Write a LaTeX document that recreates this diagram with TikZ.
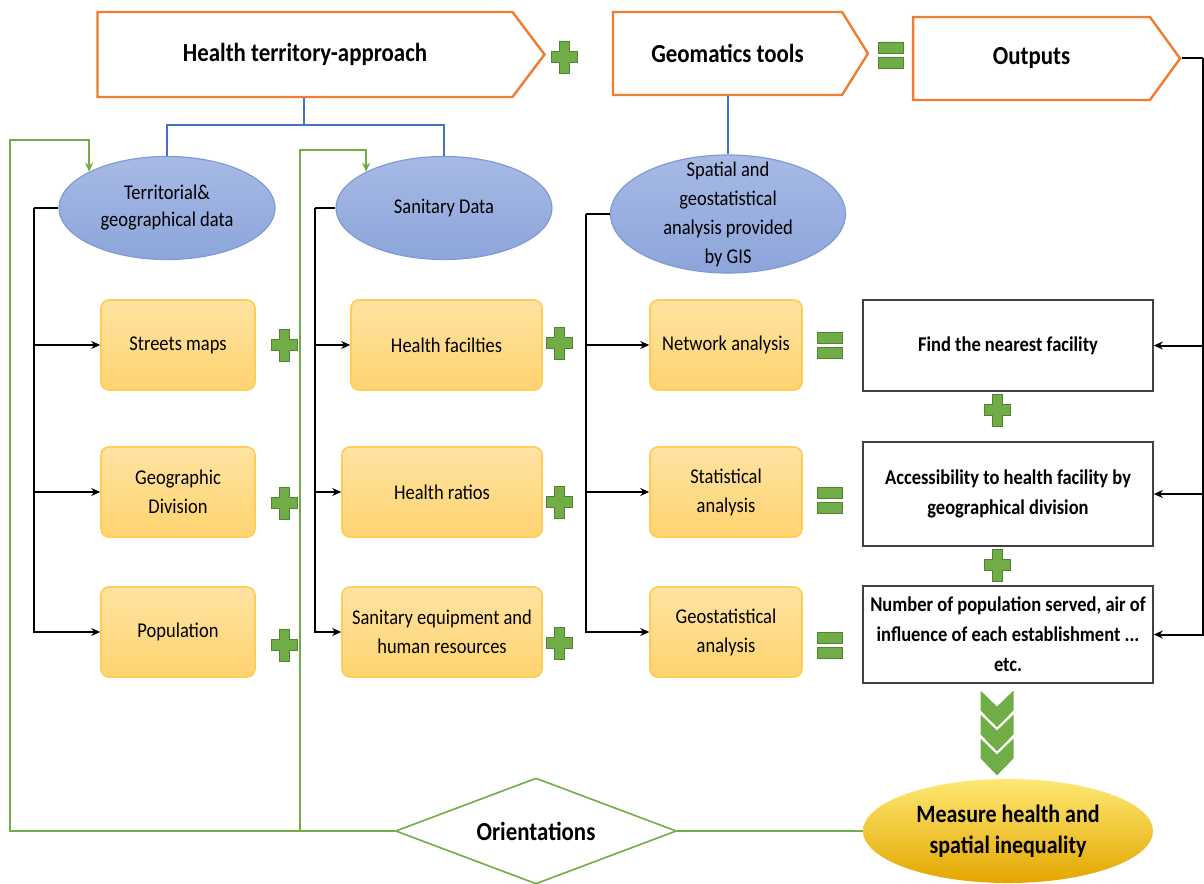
\documentclass[tikz,border=0pt]{standalone}
\usepackage{fontspec}
\setmainfont{Carlito}[FakeStretch=0.88]
\usetikzlibrary{shapes.geometric,shapes.symbols,arrows.meta}

\definecolor{hdorange}{HTML}{ED7D31}
\definecolor{elledge}{HTML}{7F9BD6}
\definecolor{elltop}{HTML}{A7BAE5}
\definecolor{ellbot}{HTML}{8DA5DA}
\definecolor{boxedge}{HTML}{FFCC55}
\definecolor{boxtop}{HTML}{FFE3A2}
\definecolor{boxbot}{HTML}{FFD470}
\definecolor{linkblue}{HTML}{4472C4}
\definecolor{fbgreen}{HTML}{70AD47}
\definecolor{darkgreen}{HTML}{548235}
\definecolor{meastop}{HTML}{FFE873}
\definecolor{measmid}{HTML}{FFC20E}
\definecolor{measbot}{HTML}{E3A600}

\begin{document}
\begin{tikzpicture}[x=0.5pt,y=-0.5pt,
  headshape/.style={signal, signal to=east, draw=hdorange, line width=1.2pt, fill=white,
    inner sep=0pt, font=\fontsize{13}{15}\selectfont\bfseries},
  dataell/.style={ellipse, draw=elledge, line width=0.6pt, top color=elltop, bottom color=ellbot,
    inner sep=0pt, align=center, font=\fontsize{10.5}{13.5}\selectfont},
  itembox/.style={rounded corners=4pt, draw=boxedge, line width=0.8pt, top color=boxtop,
    bottom color=boxbot, minimum width=77pt, minimum height=45pt, align=center,
    font=\fontsize{10.5}{14.5}\selectfont},
  resbox/.style={draw=black!75, line width=0.8pt, fill=white, minimum width=145pt,
    align=center, font=\fontsize{10.5}{15}\selectfont\bfseries},
  tree/.style={line width=1pt},
  blueln/.style={draw=linkblue, line width=0.8pt},
  feed/.style={draw=fbgreen, line width=0.9pt},
  >={Stealth[length=4.5pt,width=4pt]},
  greenplus/.pic={\path[fill=fbgreen, draw=darkgreen, line width=0.3pt]
    (-5,-16) -- (5,-16) -- (5,-5.5) -- (13,-5.5) -- (13,5.5) -- (5,5.5) -- (5,16)
    -- (-5,16) -- (-5,5.5) -- (-13,5.5) -- (-13,-5.5) -- (-5,-5.5) -- cycle;},
  greeneq/.pic={\path[fill=fbgreen, draw=darkgreen, line width=0.3pt]
    (-12.5,-13) rectangle (12.5,-2) (-12.5,2) rectangle (12.5,13);},
  chevron/.pic={\path[fill=fbgreen, draw=white, line width=1pt]
    (-17.5,0) -- (0,17) -- (17.5,0) -- (17.5,23) -- (0,41) -- (-17.5,23) -- cycle;}
]
\useasboundingbox (0,0) rectangle (1204,883);

% Header arrows
\node[headshape, minimum width=223.5pt, minimum height=42.5pt, signal pointer angle=106]
  (hta) at (305,54.5) {Health territory-approach};
\node[headshape, minimum width=127.5pt, minimum height=41.5pt, signal pointer angle=116]
  (geo) at (727.5,53.5) {Geomatics tools};
\node[headshape, minimum width=133.5pt, minimum height=41.5pt, signal pointer angle=108]
  (outs) at (1031.5,58.5) {Outputs};

% Data sources
\node[dataell, minimum width=108pt, minimum height=51.5pt] (terr) at (167,208)
  {Territorial\&\\geographical data};
\node[dataell, minimum width=108pt, minimum height=51.5pt] (san) at (444,208) {Sanitary Data};
\node[dataell, minimum width=117.5pt, minimum height=59pt, inner xsep=-2pt, inner ysep=-9pt,
  font=\fontsize{10.5}{14.5}\selectfont] (gis) at (728,214)
  {Spatial and\\geostatistical\\analysis provided\\by GIS};

% Items
\node[itembox] (streets) at (178,345) {Streets maps};
\node[itembox] (geodiv) at (178,492) {Geographic\\Division};
\node[itembox] (pop) at (178,632) {Population};
\node[itembox, minimum width=95.5pt] (facil) at (446.5,345) {Health facilties};
\node[itembox, minimum width=100pt] (ratios) at (442,492) {Health ratios};
\node[itembox, minimum width=100pt] (equip) at (442,632) {Sanitary equipment and\\human resources};
\node[itembox, minimum width=76pt] (netw) at (726,345) {Network analysis};
\node[itembox, minimum width=76pt] (stat) at (726,492) {Statistical\\analysis};
\node[itembox, minimum width=76pt] (geost) at (726,632) {Geostatistical\\analysis};

% Results
\node[resbox, minimum height=45.5pt] (near) at (1008,345.5) {Find the nearest facility};
\node[resbox, minimum height=52pt] (access) at (1008,494)
  {Accessibility to health facility by\\geographical division};
\node[resbox, minimum height=48.5pt] (popserv) at (1008,634.5)
  {Number of population served, air of\\influence of each establishment ...\\etc.};

% Bottom row
\node[diamond, aspect=2.65, draw=fbgreen, line width=0.8pt, fill=white, minimum width=140.5pt,
  minimum height=53pt, inner sep=0pt, font=\fontsize{13}{15}\selectfont\bfseries]
  (orient) at (536,831) {Orientations};
\node[ellipse, top color=meastop, middle color=measmid, bottom color=measbot,
  minimum width=145pt, minimum height=52pt, inner sep=0pt, align=center,
  font=\fontsize{12.5}{15.5}\selectfont\bfseries] (measure) at (1008,831)
  {Measure health and\\spatial inequality};

% Blue links
\coordinate (hsplit) at (304,125);
\draw[blueln] (hsplit |- hta.south) -- (hsplit);
\draw[blueln] (terr.north) |- (hsplit) -| (san.north);
\draw[blueln] (geo.south -| gis.north) -- (gis.north);

% Trees
\draw[tree] (terr.west) -- ++(-24,0) coordinate (lt);
\foreach \b in {streets,geodiv,pop} \draw[tree,->] (lt) |- (\b.west);
\draw[tree] (san.west) -- ++(-20,0) coordinate (mt);
\foreach \b in {facil,ratios,equip} \draw[tree,->] (mt) |- (\b.west);
\draw[tree] (gis.west) -- ++(-24,0) coordinate (rt);
\foreach \b in {netw,stat,geost} \draw[tree,->] (rt) |- (\b.west);
\draw[tree] (outs.east) -- ++(21,0) coordinate (ot);
\foreach \b in {near,access,popserv} \draw[tree,->] (ot) |- (\b.east);

% Feedback loop
\draw[feed] (measure.west) -- (orient.east);
\draw[feed,->] (orient.west) -| (10,140) -| (terr.155);
\coordinate (fj) at (300,831);
\draw[feed,->] (fj) -- (300,150) -| (san.155);

% Operators
\foreach \x/\y in {284/345,284/503,284/645,559/343,559/502,559/643,997/410,997/565,564/57}
  \pic at (\x,\y) {greenplus};
\foreach \y in {345,500,645} \pic at (830,\y) {greeneq};
\pic at (891,55) {greeneq};
\foreach \y in {688,712,736} \pic at (997,\y) {chevron};
\end{tikzpicture}
\end{document}
